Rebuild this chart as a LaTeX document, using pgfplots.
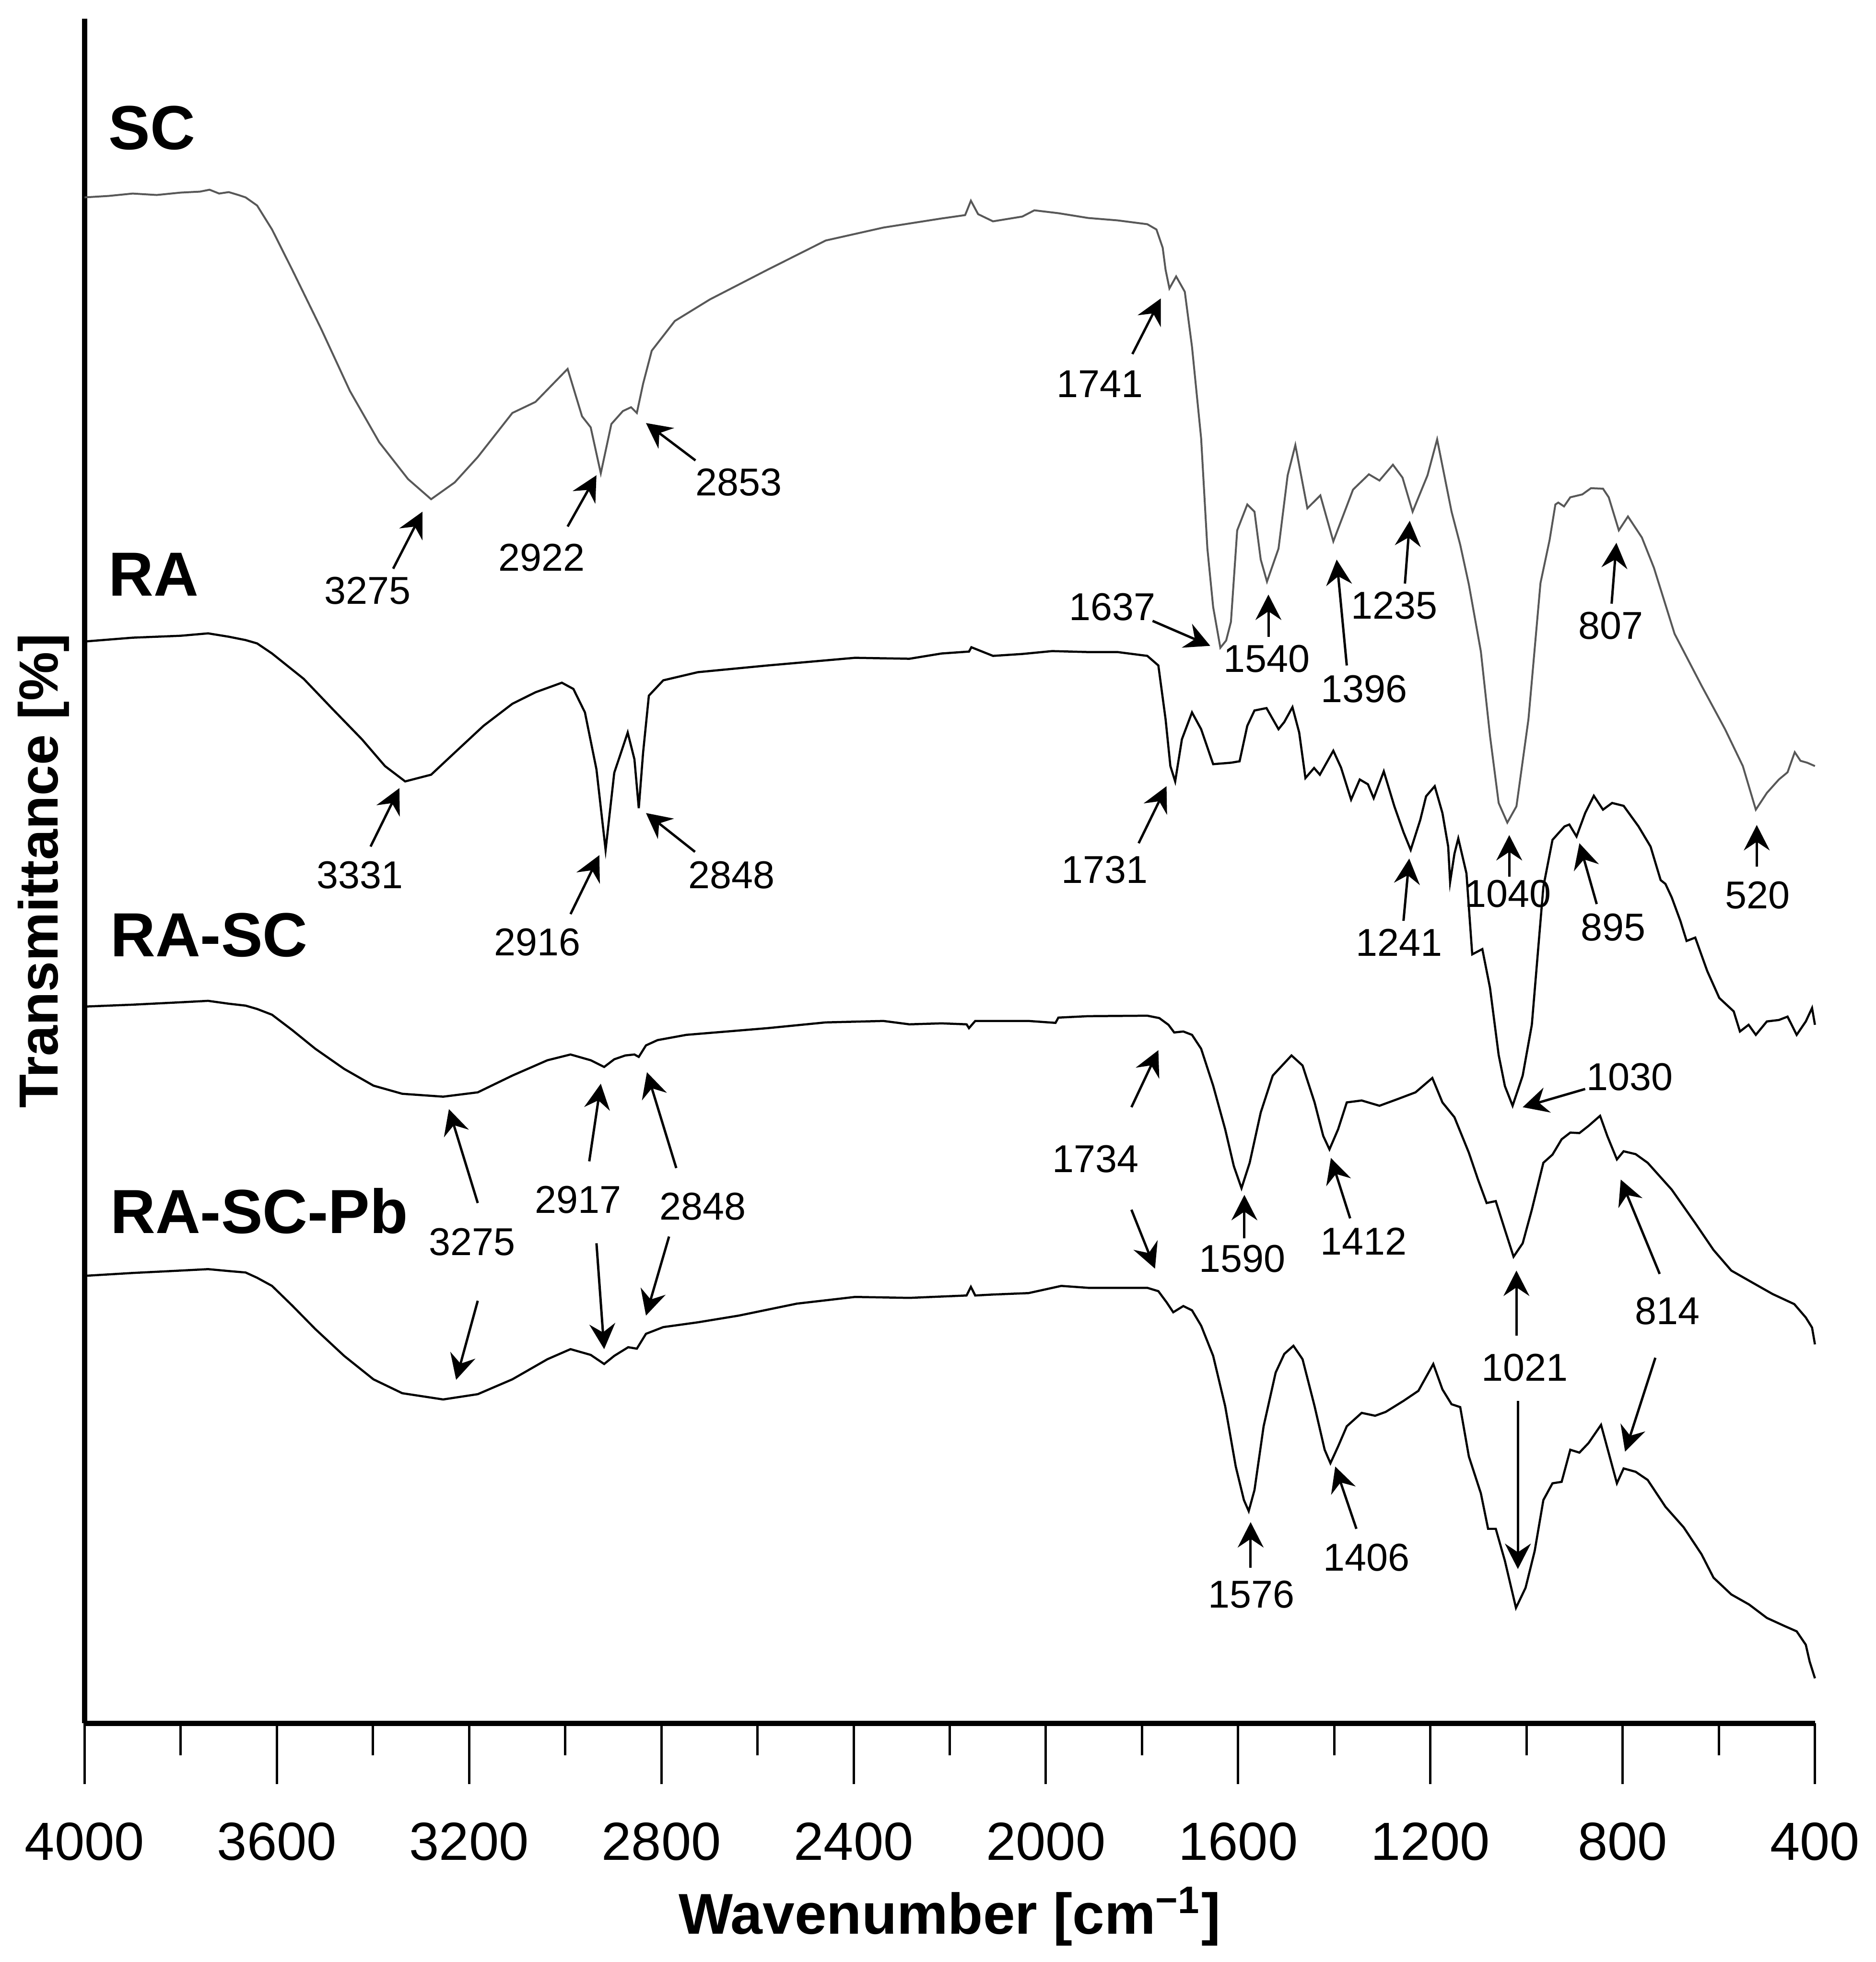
\documentclass[border=0pt]{standalone}
\usepackage{fontspec}
\setmainfont{Liberation Sans}
\usepackage{pgfplots}
\pgfplotsset{compat=1.18}
\usetikzlibrary{arrows.meta}
\definecolor{scgray}{RGB}{88,88,88}

\begin{document}
\begin{tikzpicture}[
  lab/.style={font=\fontsize{8.1}{10}\selectfont, inner sep=0pt},
  smp/.style={font=\fontsize{13}{15}\selectfont\bfseries, inner sep=0pt, anchor=base west},
  ar/.style={-{Stealth[length=5.3pt,width=5.4pt,inset=1.8pt]}, line width=0.5pt},
]
\begin{axis}[
  scale only axis, width=361.2pt, height=355.8pt,
  xmin=400, xmax=4000, ymin=0, ymax=3558,
  x dir=reverse,
  axis x line*=bottom, axis y line*=left,
  axis line style={line width=1.1pt},
  xtick={400,800,...,4000}, minor xtick={600,1000,...,3800},
  ytick=\empty,
  tick align=outside,
  major tick length=12.7pt, minor tick length=6.7pt,
  every tick/.append style={black, line width=0.5pt},
  scaled x ticks=false,
  /pgf/number format/assume math mode=true,
  /pgf/number format/1000 sep={},
  xticklabel style={font=\fontsize{11.2}{13}\selectfont, yshift=-4.5pt},
  xlabel={Wavenumber [cm\textsuperscript{−1}]},
  ylabel={Transmittance [\%]},
  xlabel style={font=\fontsize{12}{14}\selectfont\bfseries, at={(axis description cs:0.5,-0.1133)}, anchor=center},
  ylabel style={font=\fontsize{11.5}{14}\selectfont\bfseries, at={(axis description cs:-0.0238,0.5)}, anchor=center},
  clip=false,
]
% bounding frame of the whole figure
\path (axis cs:4176,3597) rectangle (axis cs:283,-494);

% SC
\addplot[scgray, line width=0.4pt] table {
4000 3185
3950 3188
3900 3193
3850 3190
3800 3195
3760 3197
3740 3201
3720 3193
3700 3196
3680 3190
3665 3185
3641 3168
3610 3118
3568 3034
3508 2911
3448 2781
3387 2674
3327 2597
3279 2555
3230 2590
3182 2643
3110 2735
3062 2758
2995 2827
2965 2728
2947 2705
2926 2609
2904 2712
2880 2739
2863 2747
2851 2735
2838 2796
2820 2865
2772 2927
2699 2972
2579 3034
2458 3095
2338 3122
2217 3141
2168 3148
2156 3178
2141 3150
2110 3135
2049 3145
2024 3158
1974 3152
1912 3142
1851 3137
1789 3129
1770 3118
1757 3080
1751 3034
1743 2995
1729 3020
1711 2988
1696 2873
1677 2682
1664 2452
1652 2330
1637 2245
1625 2260
1615 2299
1602 2490
1581 2544
1566 2529
1553 2429
1540 2383
1516 2452
1497 2605
1481 2668
1456 2536
1429 2563
1402 2467
1361 2575
1328 2607
1306 2594
1278 2627
1258 2600
1237 2529
1206 2605
1186 2680
1156 2529
1138 2460
1120 2377
1095 2237
1076 2061
1058 1921
1040 1880
1021 1914
996 2096
971 2380
952 2470
940 2544
934 2548
922 2540
909 2559
884 2565
866 2578
841 2577
829 2559
808 2490
789 2519
760 2475
735 2412
692 2274
636 2166
587 2075
550 1998
523 1907
500 1942
475 1970
457 1985
442 2027
430 2009
416 2005
400 1998
};

% RA
\addplot[black, line width=0.45pt] table {
4000 2258
3950 2262
3900 2266
3850 2268
3800 2270
3743 2275
3700 2268
3665 2261
3641 2254
3610 2233
3544 2180
3484 2117
3423 2054
3375 1998
3333 1966
3279 1980
3230 2026
3170 2082
3110 2128
3062 2152
3007 2172
2983 2159
2959 2110
2935 1991
2916 1823
2898 1984
2870 2068
2856 2012
2847 1910
2838 2026
2826 2145
2796 2177
2724 2194
2579 2208
2397 2224
2284 2222
2217 2233
2160 2237
2155 2246
2110 2228
2049 2232
1987 2238
1912 2236
1851 2236
1789 2228
1766 2208
1751 2096
1741 1998
1731 1966
1717 2054
1696 2110
1677 2075
1652 2002
1615 2005
1597 2008
1581 2082
1566 2114
1541 2119
1516 2075
1504 2090
1487 2121
1473 2068
1460 1973
1442 1994
1430 1980
1402 2030
1386 1995
1365 1928
1347 1970
1330 1960
1318 1931
1297 1987
1275 1914
1256 1860
1241 1823
1221 1886
1209 1935
1191 1956
1175 1900
1163 1830
1159 1756
1150 1815
1142 1847
1125 1774
1113 1605
1092 1616
1076 1535
1058 1395
1045 1330
1029 1289
1008 1352
989 1458
965 1746
946 1844
921 1872
911 1876
896 1851
878 1900
860 1936
841 1907
822 1921
798 1915
767 1872
742 1830
721 1760
711 1752
698 1724
680 1675
667 1633
649 1640
624 1570
599 1514
569 1486
556 1444
538 1458
523 1437
500 1465
475 1468
457 1475
438 1437
419 1465
406 1493
400 1458
};

% RA-SC
\addplot[black, line width=0.45pt] table {
4000 1496
3900 1500
3800 1505
3743 1508
3700 1502
3665 1498
3641 1491
3610 1479
3568 1447
3520 1408
3460 1366
3399 1331
3339 1314
3254 1308
3182 1317
3110 1352
3037 1384
2989 1396
2947 1384
2919 1370
2898 1386
2875 1394
2856 1396
2847 1391
2832 1415
2808 1426
2748 1437
2579 1451
2458 1463
2338 1466
2284 1459
2217 1461
2165 1459
2160 1451
2147 1466
2036 1466
1980 1462
1974 1473
1912 1476
1789 1477
1764 1472
1745 1458
1733 1442
1714 1444
1696 1437
1677 1408
1652 1331
1627 1240
1609 1163
1593 1117
1576 1170
1553 1275
1528 1352
1489 1394
1466 1373
1441 1296
1423 1226
1410 1198
1392 1240
1374 1296
1343 1300
1306 1289
1268 1303
1231 1317
1196 1347
1175 1296
1150 1265
1120 1191
1101 1135
1083 1086
1064 1090
1045 1030
1027 974
1008 1002
989 1072
965 1170
946 1187
927 1219
909 1233
890 1232
871 1247
847 1268
832 1226
812 1177
798 1194
773 1188
748 1170
698 1114
649 1044
611 988
574 945
525 917
488 896
443 875
419 847
406 826
400 791
};

% RA-SC-Pb
\addplot[black, line width=0.45pt] table {
4000 934
3900 940
3800 945
3743 948
3700 944
3665 941
3641 930
3610 913
3568 872
3520 823
3460 767
3399 718
3339 689
3254 676
3182 687
3110 718
3037 760
2989 781
2947 769
2919 750
2898 767
2869 785
2851 782
2832 813
2796 827
2724 837
2639 851
2518 876
2397 890
2284 888
2165 893
2156 911
2147 893
2110 895
2036 898
1968 913
1912 909
1789 909
1766 902
1749 879
1735 858
1714 871
1696 862
1677 830
1652 767
1627 662
1605 536
1588 466
1578 443
1566 487
1547 620
1522 732
1504 771
1485 788
1466 760
1441 662
1420 571
1408 543
1392 578
1374 620
1343 648
1315 642
1293 650
1256 673
1225 694
1194 750
1175 697
1156 666
1138 660
1120 557
1095 480
1080 406
1064 406
1045 339
1022 241
1002 283
983 360
965 466
946 501
927 504
909 571
890 565
871 585
845 623
829 564
812 501
798 532
773 525
748 508
711 452
673 409
636 353
611 304
574 269
537 248
500 220
463 203
438 192
419 164
411 129
400 94
};

% sample names
\node[smp] at (axis cs:3952,3285) {SC};
\node[smp] at (axis cs:3952,2353) {RA};
\node[smp] at (axis cs:3948,1600) {RA-SC};
\node[smp] at (axis cs:3948,1023) {RA-SC-Pb};

% SC peaks
\node[lab] at (axis cs:3411,2364) {3275};
\draw[ar] (axis cs:3358,2410) -- (axis cs:3297,2529);
\node[lab] at (axis cs:3049,2433) {2922};
\draw[ar] (axis cs:2995,2498) -- (axis cs:2935,2605);
\node[lab] at (axis cs:2639,2590) {2853};
\draw[ar] (axis cs:2729,2636) -- (axis cs:2832,2714);
\node[lab] at (axis cs:1888,2796) {1741};
\draw[ar] (axis cs:1820,2858) -- (axis cs:1761,2974);
\node[lab] at (axis cs:1862,2330) {1637};
\draw[ar] (axis cs:1778,2301) -- (axis cs:1658,2249);
\node[lab] at (axis cs:1541,2222) {1540};
\draw[ar] (axis cs:1537,2268) -- (axis cs:1537,2356);
\node[lab] at (axis cs:1338,2159) {1396};
\draw[ar] (axis cs:1374,2208) -- (axis cs:1395,2429);
\node[lab] at (axis cs:1275,2333) {1235};
\draw[ar] (axis cs:1253,2379) -- (axis cs:1243,2510);
\node[lab] at (axis cs:825,2291) {807};
\draw[ar] (axis cs:823,2337) -- (axis cs:813,2464);
\node[lab] at (axis cs:1039,1731) {1040};
\draw[ar] (axis cs:1036,1767) -- (axis cs:1036,1854);
\node[lab] at (axis cs:519,1728) {520};
\draw[ar] (axis cs:521,1788) -- (axis cs:521,1875);

% RA peaks
\node[lab] at (axis cs:3427,1770) {3331};
\draw[ar] (axis cs:3405,1830) -- (axis cs:3345,1952);
\node[lab] at (axis cs:3058,1630) {2916};
\draw[ar] (axis cs:2989,1689) -- (axis cs:2929,1812);
\node[lab] at (axis cs:2654,1770) {2848};
\draw[ar] (axis cs:2730,1819) -- (axis cs:2832,1900);
\node[lab] at (axis cs:1878,1781) {1731};
\draw[ar] (axis cs:1807,1837) -- (axis cs:1749,1956);
\node[lab] at (axis cs:1265,1630) {1241};
\draw[ar] (axis cs:1256,1675) -- (axis cs:1244,1805);
\node[lab] at (axis cs:820,1661) {895};
\draw[ar] (axis cs:854,1710) -- (axis cs:890,1837);
\node[lab] at (axis cs:785,1349) {1030};
\draw[ar] (axis cs:878,1324) -- (axis cs:1008,1286);

% RA-SC and RA-SC-Pb peaks
\node[lab] at (axis cs:3194,1005) {3275};
\draw[ar] (axis cs:3182,1086) -- (axis cs:3242,1282);
\draw[ar] (axis cs:3182,882) -- (axis cs:3227,717);
\node[lab] at (axis cs:2973,1093) {2917};
\draw[ar] (axis cs:2950,1173) -- (axis cs:2926,1335);
\draw[ar] (axis cs:2935,1002) -- (axis cs:2919,781);
\node[lab] at (axis cs:2714,1079) {2848};
\draw[ar] (axis cs:2769,1159) -- (axis cs:2830,1359);
\draw[ar] (axis cs:2784,1016) -- (axis cs:2832,851);
\node[lab] at (axis cs:1897,1178) {1734};
\draw[ar] (axis cs:1822,1286) -- (axis cs:1766,1405);
\draw[ar] (axis cs:1822,1072) -- (axis cs:1773,949);
\node[lab] at (axis cs:1591,970) {1590};
\draw[ar] (axis cs:1587,1012) -- (axis cs:1587,1103);
\node[lab] at (axis cs:1339,1006) {1412};
\draw[ar] (axis cs:1367,1054) -- (axis cs:1407,1180);
\node[lab] at (axis cs:1004,742) {1021};
\draw[ar] (axis cs:1021,809) -- (axis cs:1021,945);
\draw[ar] (axis cs:1018,673) -- (axis cs:1018,322);
\node[lab] at (axis cs:707,861) {814};
\draw[ar] (axis cs:723,938) -- (axis cs:804,1135);
\draw[ar] (axis cs:732,763) -- (axis cs:795,567);
\node[lab] at (axis cs:1572,269) {1576};
\draw[ar] (axis cs:1574,325) -- (axis cs:1574,420);
\node[lab] at (axis cs:1333,346) {1406};
\draw[ar] (axis cs:1354,406) -- (axis cs:1398,536);
\end{axis}
\end{tikzpicture}
\end{document}
